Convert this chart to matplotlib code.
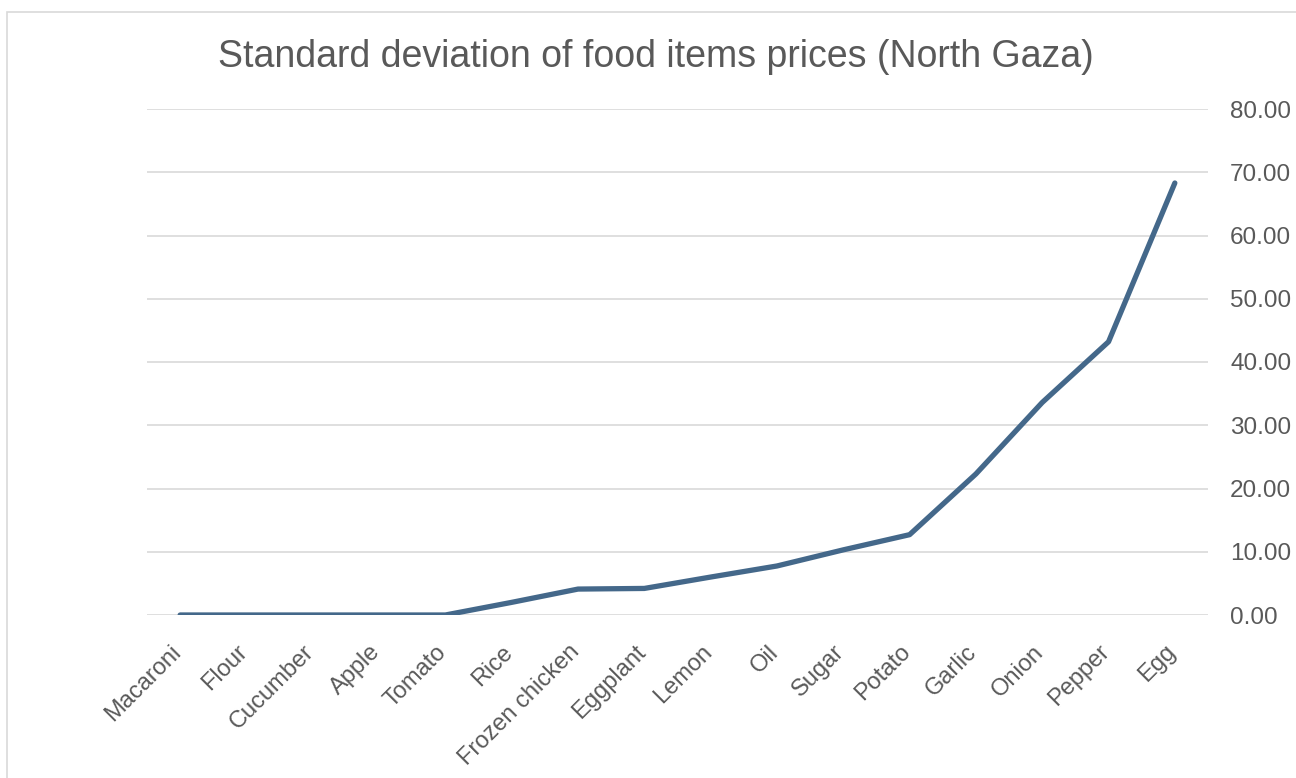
import matplotlib
matplotlib.use("Agg")
import matplotlib.pyplot as plt
import matplotlib.transforms as mtransforms
from matplotlib.patches import Rectangle

categories = ["Macaroni", "Flour", "Cucumber", "Apple", "Tomato", "Rice",
              "Frozen chicken", "Eggplant", "Lemon", "Oil", "Sugar", "Potato",
              "Garlic", "Onion", "Pepper", "Egg"]
values = [0.0, 0.0, 0.0, 0.0, 0.0, 2.0, 4.1, 4.2, 6.0, 7.75, 10.3, 12.7,
          22.3, 33.6, 43.2, 68.3]
yticks = [0, 10, 20, 30, 40, 50, 60, 70, 80]
title = "Standard deviation of food items prices (North Gaza)"

plt.rcParams['font.family'] = ['Liberation Sans', 'DejaVu Sans']
text_color = "#595959"
line_color = "#44688A"
grid_color = "#D9D9D9"

fig = plt.figure(figsize=(12.96, 7.78), dpi=100)
fig.patches.append(Rectangle((7/1296, -0.01), 1.0, 1 - 12/778 + 0.01,
                             transform=fig.transFigure, fill=False,
                             edgecolor=grid_color, linewidth=1.2))
ax = fig.add_axes([147/1296, 1 - 615/778, (1208 - 147)/1296, (615 - 109)/778])

x = list(range(len(categories)))
ax.plot(x, values, color=line_color, linewidth=3.8, solid_capstyle='round',
        solid_joinstyle='round', zorder=3)

ax.set_xlim(-0.5, len(categories) - 0.5)
ax.set_ylim(0, 80)
ax.set_yticks(yticks)
ax.set_yticklabels([f"{v:.2f}" for v in yticks])
ax.yaxis.tick_right()
ax.yaxis.grid(True, color=grid_color, linewidth=1.2)
ax.set_axisbelow(True)
ax.tick_params(axis='y', length=0, pad=16, labelsize=17.5, labelcolor=text_color)
ax.set_xticks(x)
ax.set_xticklabels([])
ax.tick_params(axis='x', length=0)
for s in ax.spines.values():
    s.set_visible(False)

# rotated category labels, anchored below each category position
base = mtransforms.blended_transform_factory(ax.transData, ax.transAxes)
offset = mtransforms.ScaledTranslation(-10/100, -26/100, fig.dpi_scale_trans)
for xi, lab in zip(x, categories):
    ax.text(xi, 0, lab, transform=base + offset, rotation=45,
            rotation_mode='anchor', ha='right', va='top',
            fontsize=17, color=text_color, clip_on=False)

fig.text(656/1296, 1 - 57/778, title, ha='center', va='center',
         fontsize=27, color=text_color)

fig.savefig("out.png", dpi=100)
